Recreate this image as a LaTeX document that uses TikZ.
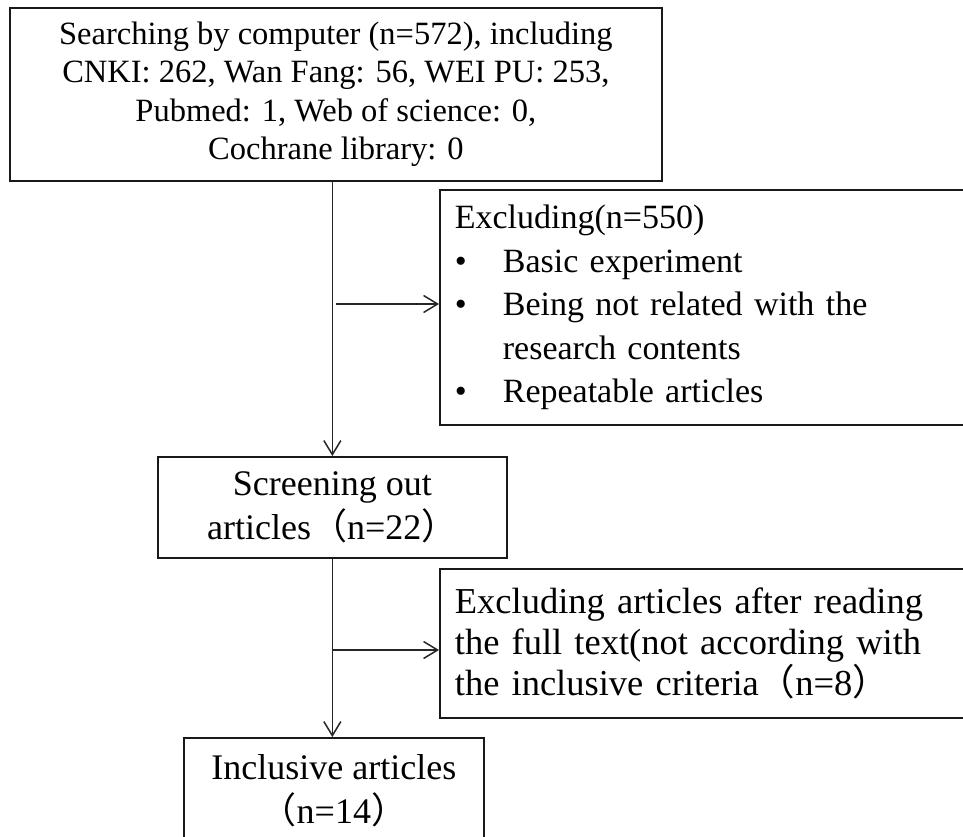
\documentclass[tikz,border=0pt]{standalone}
\usepackage{fontspec}
\setmainfont{Liberation Serif}
\newfontfamily\cjkfnt{Noto Sans CJK SC}
\usetikzlibrary{arrows.meta}
\newcommand{\cjklp}{{\cjkfnt （}}
\newcommand{\cjkrp}{{\cjkfnt ）}}
\begin{document}
\begin{tikzpicture}[x=1pt,y=-1pt,
  box/.style={draw=black!90, line width=1.7pt, inner sep=0pt, anchor=north west},
  arr/.style={-{Straight Barb[length=14pt,width=17pt,line width=1.5pt]}, draw=black!85, line width=1.7pt},
]
\useasboundingbox (0,0) rectangle (963,837);
\clip (0,0) rectangle (963,837);

\node[box, minimum width=652pt, minimum height=173pt, align=center,
      font=\fontsize{32.5}{38.5}\selectfont] (top) at (9,7)
  {Searching by computer (n=572), including\\CNKI: 262, Wan Fang: 56, WEI PU: 253,\\Pubmed: 1, Web of science: 0,\\Cochrane library: 0};

\node[box, text width=500pt, inner xsep=15pt, minimum height=235pt, align=left,
      font=\fontsize{34}{43.5}\selectfont] (ex1) at (439,189)
  {Excluding(n=550)\\
   \makebox[48pt][l]{•}Basic experiment\\
   \makebox[48pt][l]{•}Being not related with the\\
   \hspace*{48pt}research contents\\
   \makebox[48pt][l]{•}Repeatable articles};

\node[box, minimum width=349pt, minimum height=101pt, align=center,
      font=\fontsize{36}{44}\selectfont] (scr) at (157,456)
  {Screening out\\articles\cjklp n=22\cjkrp};

\node[box, text width=500pt, inner xsep=15pt, minimum height=149pt, align=left,
      font=\fontsize{36.5}{41}\selectfont] (ex2) at (439,568)
  {Excluding articles after reading\\the full text(not according with\\the inclusive criteria\cjklp n=8\cjkrp};

\node[box, minimum width=300pt, minimum height=106pt, align=center,
      font=\fontsize{36}{44}\selectfont] (inc) at (183,737)
  {Inclusive articles\\\cjklp n=14\cjkrp};

\draw[arr] (scr.north |- top.south) -- (scr.north);
\coordinate (b1) at (336,304);
\draw[arr] (b1) -- (b1 -| ex1.west);
\draw[arr] (scr.south) -- (scr.south |- inc.north);
\coordinate (b2) at (331.5,650);
\draw[arr] (b2) -- (b2 -| ex2.west);
\end{tikzpicture}
\end{document}
